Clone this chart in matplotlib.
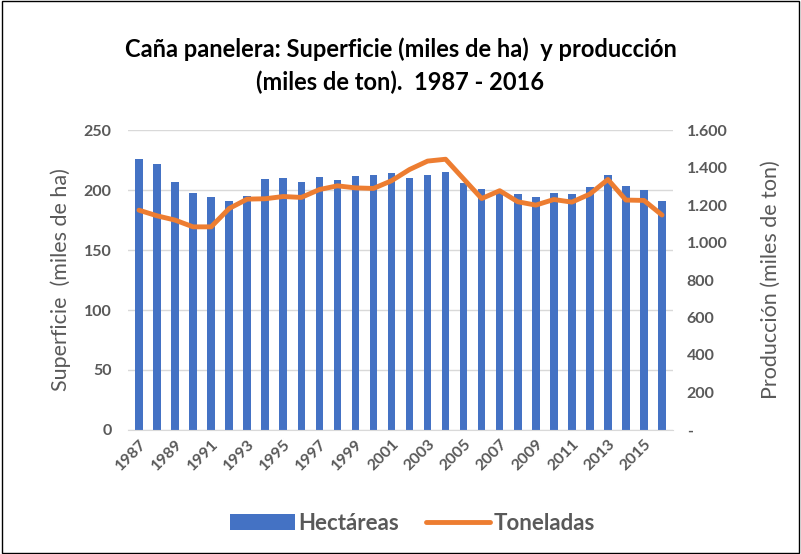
import matplotlib
matplotlib.use("Agg")
import matplotlib.pyplot as plt
from matplotlib.ticker import FuncFormatter

# Caña panelera: superficie (miles de ha) y producción (miles de ton), 1987-2016
years = list(range(1987, 2017))
hectareas = [226, 222, 207, 197.5, 194, 191, 195.5, 209, 210.5, 207,
             211, 208.5, 211.5, 212.5, 214, 210.5, 213, 215, 206, 201,
             199, 196.5, 194, 198, 196.5, 202.5, 212.5, 203.5, 200.5, 191]
toneladas = [1173, 1143, 1120, 1084, 1084, 1182, 1232, 1234, 1246, 1241,
             1283, 1303, 1292, 1289, 1330, 1390, 1435, 1445, 1340, 1235,
             1277, 1218, 1200, 1230, 1216, 1259, 1337, 1227, 1225, 1147]
year_labels = [str(y) if (y - 1987) % 2 == 0 else "" for y in years]

plt.rcParams['font.family'] = ['Lato', 'DejaVu Sans']
gray = '#595959'
blue = '#4472C4'
orange = '#ED7D31'

fig = plt.figure(figsize=(8.01, 5.54), dpi=100)
ax = fig.add_axes([0.16, 0.224, 0.68, 0.541])
ax2 = ax.twinx()

x = list(range(len(years)))
bars = ax.bar(x, hectareas, width=0.42, color=blue, label='Hectáreas', zorder=2)
line, = ax2.plot(x, toneladas, color=orange, linewidth=3.5, label='Toneladas',
                 solid_capstyle='round', solid_joinstyle='round')

ax.set_ylim(0, 250)
ax.set_yticks(range(0, 251, 50))
ax2.set_ylim(0, 1600)
ax2.set_yticks(range(0, 1601, 200))
ax2.yaxis.set_major_formatter(FuncFormatter(
    lambda v, p: '-' if v == 0 else f"{int(v):,}".replace(',', '.')))
ax.set_xlim(-0.6, len(years) - 0.4)
ax.set_xticks(x)
ax.set_xticklabels(year_labels, rotation=45, ha='right', rotation_mode='anchor')

ax.grid(axis='y', color='#D9D9D9', linewidth=1, zorder=0)
ax.set_axisbelow(True)
for a in (ax, ax2):
    for s in a.spines.values():
        s.set_visible(False)
    a.tick_params(length=0, colors=gray, labelsize=11.5)
    for lbl in a.get_xticklabels() + a.get_yticklabels():
        lbl.set_fontweight('bold')
ax.spines['bottom'].set_visible(True)
ax.spines['bottom'].set_color('#D9D9D9')
ax.tick_params(axis='x', pad=5)
ax.tick_params(axis='y', pad=12)
ax2.tick_params(axis='y', pad=10)

ax.set_ylabel('Superficie  (miles de ha)', color=gray, fontsize=15.5, labelpad=9)
ax2.set_ylabel('Producción (miles de ton)', color=gray, fontsize=15.5, labelpad=24)

fig.text(0.5, 0.881, 'Caña panelera: Superficie (miles de ha)  y producción\n(miles de ton).  1987 - 2016',
         ha='center', va='center', fontsize=17, fontweight='bold', color='black',
         linespacing=1.5)

leg = fig.legend([bars, line], ['Hectáreas', 'Toneladas'], loc='center',
                 bbox_to_anchor=(0.515, 0.055), ncol=2, frameon=False,
                 prop={'size': 16, 'weight': 'bold'}, handlelength=2.9,
                 columnspacing=1.2, handletextpad=0.15)
for t in leg.get_texts():
    t.set_color(gray)

# frame around the whole chart
fig.patches.append(plt.Rectangle((0.002, 0.002), 0.996, 0.996, transform=fig.transFigure,
                                 fill=False, edgecolor='black', linewidth=1))

fig.savefig('out.png', dpi=100)
